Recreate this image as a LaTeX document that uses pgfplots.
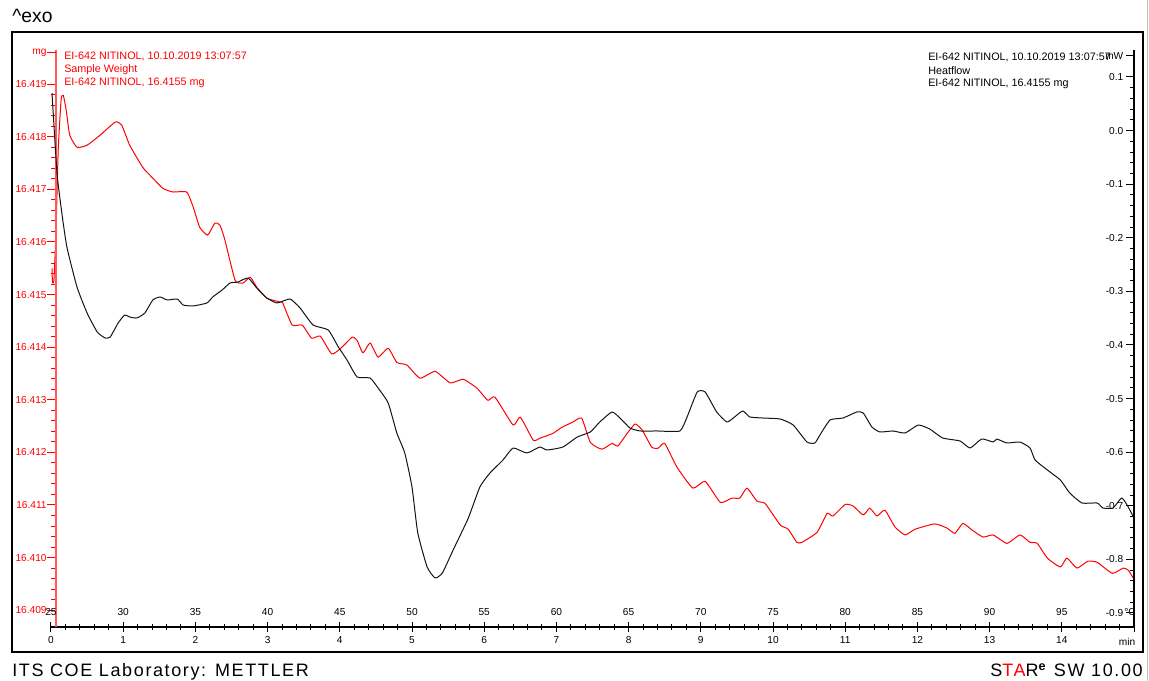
\documentclass[border=0pt]{standalone}
\usepackage{pgfplots}
\pgfplotsset{compat=1.18}
\usepackage{fontspec}
\setmainfont{Liberation Sans}
\definecolor{mred}{RGB}{255,0,0}
\definecolor{axred}{RGB}{255,90,90}
\newcommand\tf{\fontsize{7.6}{9}\selectfont}
\newcommand\lf{\fontsize{8.1}{10}\selectfont}
% sample weight values are all 16.4xxxx mg: strip the common "16.4" textually to keep full precision
\def\stripmg 16.4#1\relax{\edef\pgfmathresult{0.0#1}}
\begin{document}
\begin{tikzpicture}
\useasboundingbox (0,0) rectangle (861.75pt,510.75pt);
% ---------- red: sample weight (mg) + bottom time axis
\begin{axis}[at={(38.25pt,40.5pt)}, anchor=south west, scale only axis,
  width=812.25pt, height=432.75pt, xmin=0, xmax=15,
  ymin=16.40868, ymax=16.41965, y coord trafo/.code={\stripmg#1\relax},
  axis x line=bottom, axis y line=none, axis line style={-, black, line width=0.8pt},
  xtick={0,1,2,3,4,5,6,7,8,9,10,11,12,13,14,15},
  xticklabels={0,1,2,3,4,5,6,7,8,9,10,11,12,13,14,{}},
  minor x tick num=4, tick align=center, major tick length=7.5pt, minor tick length=4.5pt,
  x tick style={black, line width=0.75pt},
  xticklabel style={font=\tf, black}, clip=false]
\addplot[mred, line width=0.75pt, line join=round, smooth, tension=0.3] table[x=t, y=w] {
t w
0.014 16.41550
0.02 16.41524
0.04 16.41527
0.07 16.41622
0.10 16.41775
0.14 16.41870
0.17 16.41879
0.21 16.41851
0.26 16.41803
0.36 16.41780
0.50 16.41784
0.68 16.41803
0.89 16.41828
0.98 16.41822
1.09 16.41784
1.27 16.41742
1.37 16.41727
1.55 16.41702
1.69 16.41695
1.88 16.41695
1.97 16.41666
2.06 16.41628
2.17 16.41613
2.27 16.41636
2.34 16.41632
2.41 16.41603
2.55 16.41527
2.66 16.41522
2.76 16.41533
2.85 16.41514
2.99 16.41493
3.17 16.41486
3.21 16.41484
3.34 16.41442
3.48 16.41442
3.61 16.41417
3.73 16.41421
3.89 16.41387
4.03 16.41400
4.17 16.41419
4.24 16.41413
4.32 16.41389
4.42 16.41408
4.53 16.41381
4.67 16.41398
4.79 16.41371
4.93 16.41366
5.11 16.41341
5.32 16.41354
5.53 16.41332
5.71 16.41339
5.90 16.41322
6.05 16.41299
6.15 16.41305
6.40 16.41252
6.50 16.41267
6.68 16.41223
6.77 16.41227
6.95 16.41236
7.08 16.41248
7.22 16.41257
7.35 16.41265
7.47 16.41219
7.63 16.41206
7.77 16.41217
7.85 16.41212
7.98 16.41236
8.09 16.41254
8.19 16.41242
8.32 16.41210
8.41 16.41208
8.50 16.41217
8.67 16.41172
8.89 16.41132
9.06 16.41145
9.27 16.41105
9.43 16.41113
9.54 16.41113
9.64 16.41132
9.78 16.41107
9.89 16.41103
10.10 16.41062
10.21 16.41054
10.33 16.41029
10.40 16.41029
10.61 16.41048
10.75 16.41084
10.83 16.41079
11.00 16.41101
11.11 16.41098
11.25 16.41081
11.34 16.41094
11.44 16.41079
11.55 16.41090
11.69 16.41058
11.83 16.41043
11.97 16.41054
12.24 16.41064
12.41 16.41056
12.52 16.41046
12.63 16.41065
12.76 16.41052
12.91 16.41039
13.05 16.41043
13.24 16.41027
13.42 16.41043
13.56 16.41029
13.66 16.41027
13.80 16.40999
13.98 16.40982
14.07 16.40999
14.21 16.40980
14.36 16.40993
14.49 16.40991
14.70 16.40970
14.85 16.40980
14.92 16.40976
14.99 16.40961
};
\end{axis}
% ---------- red y axis (mg)
\begin{axis}[at={(42pt,40.5pt)}, anchor=south west, scale only axis,
  width=808.5pt, height=432.75pt, xmin=0, xmax=1,
  ymin=16.40868, ymax=16.41965, y coord trafo/.code={\stripmg#1\relax},
  scaled y ticks=false,
  axis x line=none, axis y line=left, axis line style={-, axred, line width=1.2pt},
  ytick={16.409,16.410,16.411,16.412,16.413,16.414,16.415,16.416,16.417,16.418,16.419},
  yticklabels={16.409,16.410,16.411,16.412,16.413,16.414,16.415,16.416,16.417,16.418,16.419},
  extra y ticks={16.4196}, extra y tick labels={mg},
  minor y tick num=4, tick align=outside, major tick length=6.75pt, minor tick length=3.75pt,
  y tick style={mred, line width=0.75pt},
  yticklabel style={font=\tf, mred, xshift=3.2pt}]
\end{axis}
% ---------- black: heat flow (mW), right axis
\begin{axis}[at={(38.25pt,40.5pt)}, anchor=south west, scale only axis,
  width=812.25pt, height=432.75pt, xmin=0, xmax=15,
  ymin=-0.92612, ymax=0.15037, scaled y ticks=false,
  axis x line=none, axis y line=right, axis line style={-, black, line width=0.8pt},
  ytick={-0.9,-0.8,-0.7,-0.6,-0.5,-0.4,-0.3,-0.2,-0.1,0,0.1},
  yticklabels={-0.9,-0.8,-0.7,-0.6,-0.5,-0.4,-0.3,-0.2,-0.1,0.0,0.1},
  extra y ticks={0.14}, extra y tick labels={mW},
  minor y tick num=4, tick align=inside, major tick length=6pt, minor tick length=3pt,
  y tick style={black, line width=0.75pt},
  yticklabel style={font=\tf, black, anchor=east, xshift=-4.5pt},
  clip=false]
\addplot[black!92, line width=0.75pt, line join=round, smooth, tension=0.3] table[x=t, y=q] {
t q
0.014 0.0701
0.083 -0.0791
0.15 -0.1537
0.22 -0.2172
0.36 -0.2918
0.50 -0.3403
0.64 -0.3757
0.75 -0.3869
0.82 -0.3851
0.93 -0.3590
1.02 -0.3440
1.09 -0.3478
1.19 -0.3496
1.30 -0.3403
1.41 -0.3160
1.51 -0.3104
1.61 -0.3160
1.75 -0.3142
1.83 -0.3254
1.97 -0.3272
2.16 -0.3216
2.24 -0.3104
2.37 -0.2974
2.48 -0.2843
2.59 -0.2825
2.73 -0.2750
2.85 -0.2937
2.99 -0.3123
3.13 -0.3216
3.31 -0.3142
3.45 -0.3310
3.63 -0.3627
3.84 -0.3720
3.98 -0.4037
4.10 -0.4280
4.24 -0.4597
4.42 -0.4616
4.53 -0.4802
4.67 -0.5082
4.79 -0.5642
4.90 -0.6015
5.00 -0.6649
5.08 -0.7507
5.21 -0.8142
5.32 -0.8347
5.42 -0.8254
5.57 -0.7825
5.78 -0.7228
5.94 -0.6649
6.08 -0.6388
6.26 -0.6146
6.40 -0.5922
6.59 -0.6015
6.77 -0.5903
6.87 -0.5959
7.09 -0.5903
7.29 -0.5716
7.47 -0.5623
7.60 -0.5437
7.77 -0.5250
7.88 -0.5362
8.02 -0.5549
8.16 -0.5604
8.39 -0.5604
8.71 -0.5604
8.81 -0.5343
8.95 -0.4877
9.06 -0.4877
9.22 -0.5250
9.36 -0.5437
9.45 -0.5362
9.58 -0.5231
9.68 -0.5343
9.86 -0.5362
10.10 -0.5381
10.28 -0.5493
10.47 -0.5810
10.58 -0.5828
10.65 -0.5679
10.79 -0.5399
10.97 -0.5362
11.16 -0.5250
11.25 -0.5269
11.37 -0.5530
11.48 -0.5623
11.66 -0.5604
11.83 -0.5642
12.01 -0.5493
12.17 -0.5567
12.35 -0.5735
12.59 -0.5791
12.73 -0.5922
12.89 -0.5754
13.05 -0.5810
13.10 -0.5754
13.24 -0.5828
13.42 -0.5810
13.56 -0.5922
13.63 -0.6146
13.80 -0.6332
13.98 -0.6519
14.11 -0.6761
14.28 -0.6948
14.49 -0.6948
14.57 -0.7041
14.71 -0.7041
14.83 -0.6854
14.92 -0.7022
14.99 -0.7209
};
\end{axis}
% ---------- frame and texts (pixel coordinates of the reference)
\begin{scope}[x=0.75pt, y=-0.75pt, yshift=510.75pt]
\draw[black, line width=1.1pt] (12,32) rectangle (1143,652);
\draw[black!25, line width=0.75pt] (1147.5,0) -- (1147.5,681);
\node[anchor=base west, inner sep=0pt, font=\fontsize{14.5}{16}\selectfont] at (12,23) {\^{}exo};
\node[anchor=west, inner sep=0pt, font=\lf, text=mred] at (64,56) {EI-642 NITINOL, 10.10.2019 13:07:57};
\node[anchor=west, inner sep=0pt, font=\lf, text=mred] at (64,70) {Sample Weight};
\node[anchor=west, inner sep=0pt, font=\lf, text=mred] at (64,83) {EI-642 NITINOL, 16.4155 mg};
\node[anchor=west, inner sep=0pt, font=\lf] at (928,57) {EI-642 NITINOL, 10.10.2019 13:07:57};
\node[anchor=west, inner sep=0pt, font=\lf] at (928,71) {Heatflow};
\node[anchor=west, inner sep=0pt, font=\lf] at (928,84) {EI-642 NITINOL, 16.4155 mg};
\foreach \i in {0,...,14}{
  \pgfmathtruncatemacro\T{25+5*\i}
  \node[inner sep=0pt, font=\tf] at ({51+72.2*\i},612) {\T};
}
\node[anchor=east, inner sep=0pt, font=\tf] at (1136,612) {°C};
\node[inner sep=0pt, font=\tf] at (1127,642) {min};
\node[anchor=base west, inner sep=0pt, font=\fontsize{13.5}{15}\selectfont\addfontfeatures{LetterSpace=9}] at (12,677) {ITS COE Laboratory: METTLER};
\node[anchor=base east, inner sep=0pt, font=\fontsize{13.5}{15}\selectfont\addfontfeatures{LetterSpace=9}] at (1143,677) {S{\color{mred}TA}R\textsuperscript{\textbf{e}} SW 10.00};
\end{scope}
\end{tikzpicture}
\end{document}
